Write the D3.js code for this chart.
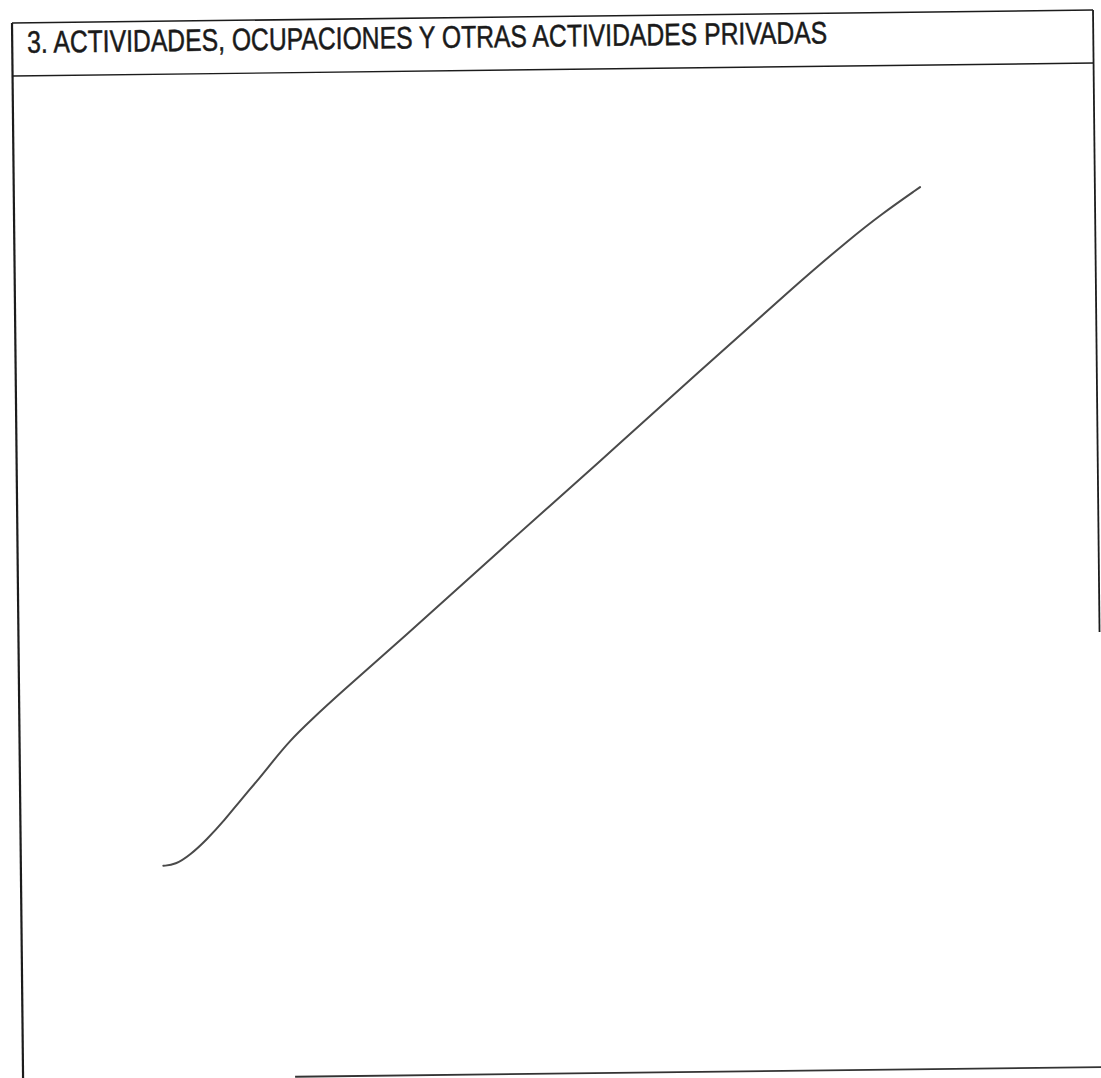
<!DOCTYPE html>
<html>
<head>
<meta charset="utf-8">
<script src="https://cdn.jsdelivr.net/npm/d3@7"></script>
<style>
  body { margin: 0; background: #fff; }
  svg { display: block; }
</style>
</head>
<body>
<div id="form_div"></div>
<script>
//data: section title and the hand-drawn cancel stroke (percent of the box)
var title = "3. ACTIVIDADES, OCUPACIONES Y OTRAS ACTIVIDADES PRIVADAS";
var strokeX = [14.0, 15.1, 16.5, 18.0, 19.7, 21.1, 22.7, 24.1, 25.7, 27.6, 30.3, 35.9, 45.1, 54.4, 63.6, 72.9, 77.5, 80.3, 84.0];
var strokeY = [78.9, 78.8, 77.8, 76.3, 74.3, 72.4, 70.4, 68.5, 66.4, 64.4, 61.7, 56.4, 47.4, 38.5, 29.5, 20.5, 16.3, 13.9, 11.1];

//globals
var width = 1101;
var height = 1078;
var boxW = 1081;      // form box width
var boxH = 1057;      // form box height
var headerH = 53;     // title band

var svg = d3.select("#form_div")
    .append("svg")
    .attr("width", width)
    .attr("height", height);

//scanned page is slightly skewed
var frame = svg.append("g")
    .attr("transform", "matrix(1,-0.012,0.0105,1,12,23)");

var ink = "#1c1c1c";

//header band
frame.append("line")
    .attr("x1", 0).attr("y1", 0)
    .attr("x2", boxW).attr("y2", 0)
    .attr("stroke", ink).attr("stroke-width", 1.6);

frame.append("line")
    .attr("x1", 0).attr("y1", headerH)
    .attr("x2", boxW).attr("y2", headerH)
    .attr("stroke", ink).attr("stroke-width", 1.4);

frame.append("text")
    .attr("x", 15)
    .attr("y", 30)
    .attr("font-family", "'Liberation Sans Narrow', 'Arial Narrow', 'Liberation Sans', sans-serif")
    .style("font-size", "31px")
    .attr("textLength", 800)
    .attr("lengthAdjust", "spacingAndGlyphs")
    .attr("fill", "#1a1a1a")
    .attr("stroke", "#1a1a1a")
    .attr("stroke-width", 0.5)
    .text(title);

//left border runs off the page
frame.append("line")
    .attr("x1", 0).attr("y1", 0)
    .attr("x2", 0).attr("y2", boxH + 20)
    .attr("stroke", ink).attr("stroke-width", 2.2);

//right border fades out half way down
frame.append("line")
    .attr("x1", boxW).attr("y1", 0)
    .attr("x2", boxW).attr("y2", 622)
    .attr("stroke", ink).attr("stroke-width", 1.8);

//bottom border (left part lost in the scan)
frame.append("line")
    .attr("x1", 272).attr("y1", boxH)
    .attr("x2", boxW + 20).attr("y2", boxH)
    .attr("stroke", "#333").attr("stroke-width", 1.8);

//cancel stroke
var x = d3.scaleLinear().domain([0, 100]).range([12, 1093]);
var y = d3.scaleLinear().domain([0, 100]).range([76, 1077]);

var pts = strokeX.map(function(d, i) { return [d, strokeY[i]]; });

var line = d3.line()
    .x(function(d) { return x(d[0]); })
    .y(function(d) { return y(d[1]); })
    .curve(d3.curveBasis);

svg.append("path")
    .datum(pts)
    .attr("d", line)
    .attr("fill", "none")
    .attr("stroke", "#4a4a4a")
    .attr("stroke-width", 2)
    .attr("stroke-linecap", "round");
</script>
</body>
</html>
